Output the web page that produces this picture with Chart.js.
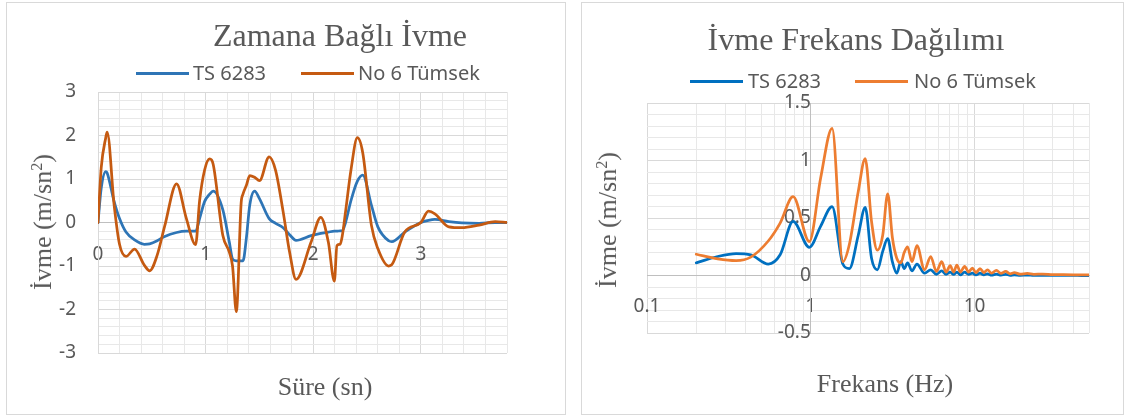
<!DOCTYPE html>
<html lang="tr">
<head>
<meta charset="utf-8">
<title>İvme</title>
<script src="https://cdn.jsdelivr.net/npm/chart.js@4/dist/chart.umd.min.js"></script>
<style>
  html, body { margin: 0; padding: 0; background: #fff; }
  body { position: relative; width: 1131px; height: 420px; overflow: hidden; }
  .frame { position: absolute; top: 2px; height: 413px; box-sizing: border-box; border: 1px solid #d9d9d9; }
  .frame canvas { position: absolute; left: 0; top: 0; }
  .txt { position: absolute; white-space: nowrap; color: #595959; line-height: 1; }
  .title { font-family: "Liberation Serif", serif; font-size: 32px; transform: translateX(-50%); }
  .axis-title { font-family: "Liberation Serif", serif; font-size: 26px; }
  .xt { transform: translateX(-50%); }
  .yt { transform: translate(-50%, -50%) rotate(-90deg); }
  .legend { font-family: "Noto Sans", sans-serif; font-size: 20px; }
  .swatch { position: absolute; height: 3px; width: 53px; }
  sup { font-size: 0.62em; vertical-align: 0.55em; line-height: 0; }
</style>
</head>
<body>

<div class="frame" style="left:6px; width:560px;">
  <canvas id="timeChart" width="558" height="411"></canvas>
</div>
<div class="frame" style="left:581px; width:543px;">
  <canvas id="freqChart" width="541" height="411"></canvas>
</div>

<!-- titles, legends and axis titles -->
<div class="txt title" style="left:340px; top:19px;">Zamana Bağlı İvme</div>
<div class="swatch" style="left:136px; top:72px; background:#2E75B6;"></div>
<div class="txt legend" style="left:193px; top:63px;">TS 6283</div>
<div class="swatch" style="left:301px; top:72px; background:#C55A11;"></div>
<div class="txt legend" style="left:358px; top:63px;">No 6 Tümsek</div>
<div class="txt axis-title xt" style="left:325px; top:374px;">Süre (sn)</div>
<div class="txt axis-title yt" style="left:43px; top:222px;">İvme (m/sn<sup>2</sup>)</div>

<div class="txt title" style="left:856px; top:23px;">İvme Frekans Dağılımı</div>
<div class="swatch" style="left:690px; top:80px; background:#0070C0;"></div>
<div class="txt legend" style="left:748px; top:71px;">TS 6283</div>
<div class="swatch" style="left:855px; top:80px; background:#ED7D31;"></div>
<div class="txt legend" style="left:914px; top:71px;">No 6 Tümsek</div>
<div class="txt axis-title xt" style="left:885px; top:371px;">Frekans (Hz)</div>
<div class="txt axis-title yt" style="left:608px; top:220px;">İvme (m/sn<sup>2</sup>)</div>

<script>
// zamana bağlı ivme (sol grafik)
const timeSec = [0, 0.03, 0.072, 0.085, 0.15, 0.2, 0.26, 0.34, 0.43, 0.48, 0.55, 0.62, 0.73, 0.82,
  0.907, 0.944, 0.99, 1.037, 1.07, 1.16, 1.22, 1.25, 1.285, 1.33, 1.347, 1.378, 1.41, 1.455, 1.5,
  1.59, 1.65, 1.72, 1.78, 1.84, 1.98, 2.07, 2.14, 2.196, 2.22, 2.25, 2.27, 2.3, 2.35, 2.41, 2.46,
  2.54, 2.6, 2.7, 2.73, 2.85, 3.0, 3.07, 3.13, 3.26, 3.38, 3.54, 3.69, 3.8]
const ts6283Acc = [0, 0.79, 1.17, 1.14, 0.48, 0.09, -0.22, -0.4, -0.5, -0.49, -0.42, -0.32, -0.23, -0.2,
  -0.2, 0.09, 0.48, 0.65, 0.72, 0.29, -0.45, -0.84, -0.88, -0.88, -0.88, -0.37, 0.4, 0.72, 0.55,
  0.09, -0.02, -0.12, -0.28, -0.41, -0.3, -0.25, -0.22, -0.2, -0.2, -0.19, -0.19, 0.0, 0.5, 0.95, 1.09,
  0.4, -0.1, -0.42, -0.44, -0.22, 0, 0.05, 0.07, 0.02, -0.01, -0.02, 0, 0]
const tumsekAcc = [0, 1.26, 1.95, 2.08, 0.4, -0.5, -0.78, -0.61, -0.98, -1.11, -0.75, -0.08, 0.89, 0.1,
  -0.51, 0.5, 1.2, 1.46, 1.34, -0.3, -0.68, -1.0, -2.05, 0.45, 0.65, 0.85, 1.08, 1.04, 0.96,
  1.51, 1.2, 0.25, -0.68, -1.31, -0.45, 0.12, -0.45, -1.35, -0.53, -0.5, -0.3, 0.25, 1.2, 1.95, 1.6,
  -0.06, -0.6, -1.0, -0.97, -0.22, 0, 0.26, 0.2, -0.1, -0.12, -0.06, 0.02, 0]

// ivme frekans dağılımı (sağ grafik)
const freqHz = [0.2, 0.27, 0.35, 0.43, 0.55, 0.65, 0.78, 0.98, 1.15, 1.35, 1.57, 1.72, 1.95, 2.15,
  2.35, 2.55, 2.75, 2.95, 3.15, 3.35, 3.55, 3.72, 3.9, 4.15, 4.45, 4.95, 5.4, 5.85, 6.3, 6.7, 7.1,
  7.45, 7.8, 8.2, 8.7, 9.2, 9.7, 10.2, 10.8, 11.4, 12, 12.7, 13.6, 14.5, 15.5, 16.5, 17.5, 19, 21,
  23, 26, 30, 35, 40, 45, 50]
const ts6283Spec = [0.11, 0.165, 0.19, 0.18, 0.10, 0.18, 0.47, 0.245, 0.43, 0.60, 0.10, 0.06, 0.35, 0.593,
  0.15, 0.05, 0.21, 0.32, 0.12, 0.02, 0.12, 0.06, 0.11, 0.04, 0.10, 0.02, 0.05, 0.01, 0.04, 0.01, 0.03,
  0.01, 0.03, 0.005, 0.03, 0.01, 0.02, 0.005, 0.02, 0.005, 0.015, 0.003, 0.012, 0.003, 0.01, 0.002, 0.006, 0.002, 0.004,
  0.001, 0.002, 0.001, 0.001, 0.001, 0, 0]
const tumsekSpec = [0.185, 0.145, 0.13, 0.16, 0.30, 0.456, 0.685, 0.295, 0.85, 1.28, 0.12, 0.27, 0.73, 1.017,
  0.47, 0.22, 0.35, 0.71, 0.33, 0.15, 0.11, 0.2, 0.25, 0.12, 0.26, 0.05, 0.165, 0.035, 0.12, 0.03, 0.085,
  0.03, 0.09, 0.03, 0.08, 0.03, 0.065, 0.025, 0.06, 0.025, 0.05, 0.02, 0.045, 0.018, 0.035, 0.015, 0.025, 0.012, 0.018,
  0.01, 0.012, 0.008, 0.007, 0.006, 0.005, 0.005]

// log eksen ızgara çizgileri ve etiketleri
const freqGrid = [0.1, 0.2, 0.3, 0.4, 0.5, 0.6, 0.7, 0.8, 0.9, 1, 2, 3, 4, 5, 6, 7, 8, 9, 10, 20, 30, 40, 50]
const freqLabels = [0.1, 1, 10]

const TEXT = '#595959'
const GRID_MAJOR = '#d9d9d9'
const GRID_MINOR = '#e8e8e8'
const AXIS = '#bfbfbf'
const tickFont = {family: 'Noto Sans', size: 19}

const isWhole = v => Math.abs(v - Math.round(v)) < 1e-6
const tenths = v => Math.round(v * 10)

const baseOptions = {
    responsive: false,
    animation: false,
    events: [],
    elements: {
        point: {radius: 0},
        line: {borderWidth: 2.75, cubicInterpolationMode: 'monotone', fill: false, borderCapStyle: 'round', borderJoinStyle: 'round'}
    },
    plugins: {
        legend: {display: false},
        tooltip: {enabled: false}
    }
}

new Chart(document.getElementById('timeChart'), {
    type: 'line',
    data: {
        datasets: [{
            label: 'TS 6283',
            data: timeSec.map((t, i) => ({x: t, y: ts6283Acc[i]})),
            borderColor: '#2E75B6',
            order: 1
        }, {
            label: 'No 6 Tümsek',
            data: timeSec.map((t, i) => ({x: t, y: tumsekAcc[i]})),
            borderColor: '#C55A11',
            order: 0
        }]
    },
    options: {
        ...baseOptions,
        layout: {padding: {left: 0, top: 89, right: 58, bottom: 61}},
        scales: {
            x: {
                type: 'linear',
                position: {y: 0},
                min: 0,
                max: 3.8,
                ticks: {
                    stepSize: 0.2,
                    autoSkip: false,
                    maxRotation: 0,
                    padding: 21,
                    color: TEXT,
                    font: tickFont,
                    callback: v => isWhole(v) ? String(Math.round(v)) : ''
                },
                grid: {
                    drawTicks: false,
                    color: c => isWhole(c.tick.value) ? GRID_MAJOR : GRID_MINOR
                },
                border: {color: AXIS}
            },
            y: {
                position: 'left',
                min: -3,
                max: 3,
                afterFit: s => { s.width = 91 },
                ticks: {
                    stepSize: 0.2,
                    autoSkip: false,
                    padding: 22,
                    color: TEXT,
                    font: tickFont,
                    callback: v => isWhole(v) ? String(Math.round(v)) : ''
                },
                grid: {
                    drawTicks: false,
                    color: c => {
                        const v = c.tick.value
                        if (Math.abs(v) < 1e-6) return AXIS
                        return isWhole(v) ? GRID_MAJOR : GRID_MINOR
                    }
                },
                border: {color: GRID_MAJOR}
            }
        }
    }
})

new Chart(document.getElementById('freqChart'), {
    type: 'line',
    data: {
        datasets: [{
            label: 'TS 6283',
            data: freqHz.map((f, i) => ({x: f, y: ts6283Spec[i]})),
            borderColor: '#0070C0',
            order: 1
        }, {
            label: 'No 6 Tümsek',
            data: freqHz.map((f, i) => ({x: f, y: tumsekSpec[i]})),
            borderColor: '#ED7D31',
            order: 0
        }]
    },
    options: {
        ...baseOptions,
        layout: {padding: {left: 65, top: 100, right: 34, bottom: 81}},
        scales: {
            x: {
                type: 'logarithmic',
                position: {y: 0},
                min: 0.1,
                max: 50,
                afterBuildTicks: s => { s.ticks = freqGrid.map(v => ({value: v})) },
                ticks: {
                    autoSkip: false,
                    maxRotation: 0,
                    padding: 20,
                    color: TEXT,
                    font: tickFont,
                    callback: v => freqLabels.includes(v) ? String(v) : ''
                },
                grid: {
                    drawTicks: false,
                    color: c => (c.tick.value === 0.1 || c.tick.value === 10) ? GRID_MAJOR : GRID_MINOR
                },
                border: {color: AXIS}
            },
            y: {
                position: {x: 1},
                min: -0.5,
                max: 1.5,
                ticks: {
                    stepSize: 0.1,
                    autoSkip: false,
                    padding: 24,
                    color: TEXT,
                    font: tickFont,
                    callback: v => tenths(v) % 5 === 0 ? String(tenths(v) / 10) : ''
                },
                grid: {
                    drawTicks: false,
                    color: c => {
                        const k = tenths(c.tick.value)
                        if (k === 0) return AXIS
                        return k % 5 === 0 ? GRID_MAJOR : GRID_MINOR
                    }
                },
                border: {color: AXIS}
            }
        }
    }
})
</script>
</body>
</html>
